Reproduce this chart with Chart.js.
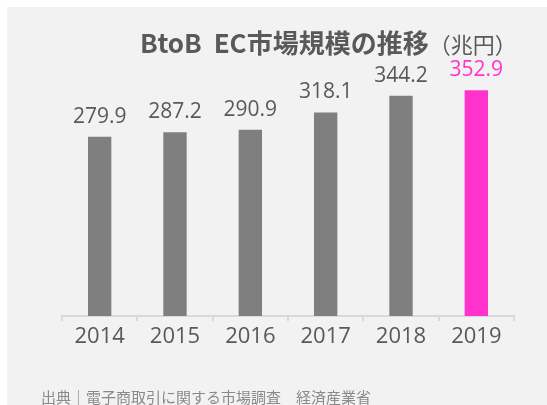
<!DOCTYPE html>
<html>
<head>
<meta charset="utf-8">
<script src="https://cdn.jsdelivr.net/npm/chart.js@4"></script>
<style>
  body { margin: 0; background: #fff; width: 547px; height: 405px; overflow: hidden; position: relative; }
  #bg { position: absolute; left: 7px; top: 7px; right: 0; bottom: 0; background: #f2f2f2; }
  #chart { position: absolute; left: 0; top: 0; }
  #title { position: absolute; left: 140px; top: 24px; white-space: nowrap; color: #595959;
           font-family: 'Noto Sans CJK JP', sans-serif; font-weight: bold; font-size: 26px; line-height: 36px; }
  #title span { font-weight: normal; font-size: 22px; }
  #source { position: absolute; left: 41px; top: 386px; white-space: nowrap; color: #8a8a8a;
            font-family: 'Noto Sans CJK JP', sans-serif; font-size: 15px; line-height: 22px; }
</style>
</head>
<body>
<div id="bg"></div>
<canvas id="chart" width="547" height="405"></canvas>
<div id="title">BtoB&nbsp; EC市場規模の推移<span>（兆円）</span></div>
<div id="source">出典｜電子商取引に関する市場調査　経済産業省</div>
<script>
const years = ['2014', '2015', '2016', '2017', '2018', '2019'];
const marketSize = [279.9, 287.2, 290.9, 318.1, 344.2, 352.9];
const barColors = ['#7f7f7f', '#7f7f7f', '#7f7f7f', '#7f7f7f', '#7f7f7f', '#ff33cc'];
const labelColors = ['#595959', '#595959', '#595959', '#595959', '#595959', '#ff33cc'];

// 棒の上に数値を表示
const valueLabels = {
    id: 'valueLabels',
    afterDatasetsDraw(chart) {
        const ctx = chart.ctx;
        ctx.save();
        ctx.font = '21px "Open Sans", sans-serif';
        ctx.textAlign = 'center';
        ctx.textBaseline = 'alphabetic';
        chart.getDatasetMeta(0).data.forEach((bar, i) => {
            ctx.fillStyle = labelColors[i];
            ctx.fillText(marketSize[i].toFixed(1), bar.x, bar.y - 14);
        });
        ctx.restore();
    }
};

new Chart(document.getElementById('chart'), {
    type: 'bar',
    data: {
        labels: years,
        datasets: [{
            data: marketSize,
            backgroundColor: barColors,
            categoryPercentage: 1,
            barPercentage: 0.31
        }]
    },
    options: {
        responsive: false,
        animation: false,
        layout: { padding: { left: 62, right: 33, top: 60, bottom: 0 } },
        plugins: { legend: { display: false }, tooltip: { enabled: false } },
        scales: {
            y: { display: false, min: 0, max: 400 },
            x: {
                afterFit: s => { s.height = 89; },
                grid: { drawOnChartArea: false, drawTicks: true, tickLength: 5, color: '#d9d9d9', lineWidth: 2 },
                border: { color: '#d9d9d9', width: 2 },
                ticks: {
                    color: '#595959',
                    padding: 3,
                    font: { family: '"Open Sans", sans-serif', size: 22 }
                }
            }
        }
    },
    plugins: [valueLabels]
});
</script>
</body>
</html>
